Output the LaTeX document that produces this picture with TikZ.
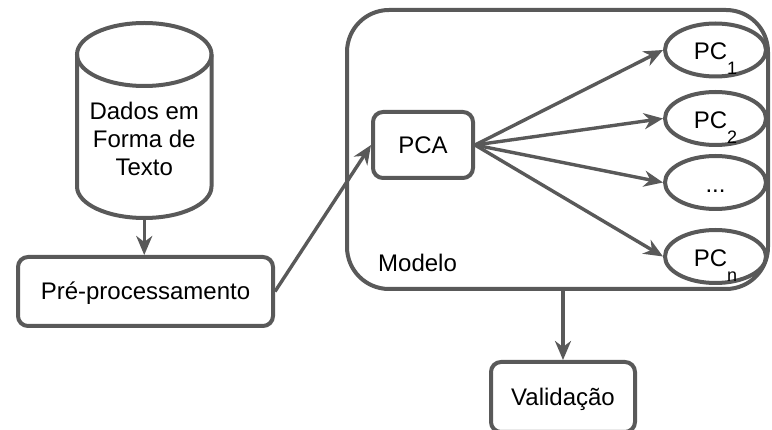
\documentclass[tikz,border=0pt]{standalone}
\usepackage{fontspec}
\setmainfont{Liberation Sans}
\usetikzlibrary{arrows.meta,shapes.geometric}
\definecolor{edge}{HTML}{595959}
\tikzset{
  txt/.style={font=\fontsize{24}{28}\selectfont, text=black},
  box/.style={txt, draw=edge, line width=4pt, rectangle, rounded corners=10pt,
    fill=white, inner sep=0pt, text height=17pt, text depth=0pt},
  pcnode/.style={txt, draw=edge, line width=4pt, ellipse, fill=white, inner sep=0pt,
    minimum width=101pt, minimum height=53pt, text height=20pt, text depth=0pt},
  arr/.style={draw=edge, line width=3.4pt,
    -{Stealth[length=19pt,width=16pt,inset=6pt]}},
}
\newcommand{\pcsub}[1]{PC\raisebox{-15pt}[0pt][0pt]{\fontsize{18}{18}\selectfont #1}}
\begin{document}
\begin{tikzpicture}[x=1pt,y=-1pt]
  \useasboundingbox (0,0) rectangle (772,430);
  \clip (0,0) rectangle (772,430);
  \fill[white] (0,0) rectangle (772,430);

  % data store drawn as a cylinder
  \draw[edge, line width=4pt, fill=white]
    (77,54.5) -- (77,186.5)
    arc[start angle=180, end angle=0, x radius=67.25, y radius=31.5]
    -- (211.5,54.5);
  \draw[edge, line width=4pt] (144.25,54.5) ellipse[x radius=67.25, y radius=31.5];
  \node[inner sep=0pt, minimum width=134.5pt, minimum height=195pt] (db) at (144.25,120.5) {};
  \node[txt, align=center, inner sep=0pt] (dbtext) at (144.25,138.5)
    {Dados em\\Forma de\\Texto};

  % preprocessing
  \node[box, minimum width=255pt, minimum height=69pt] (pre) at (145.5,291.5)
    {Pré-processamento};

  % model container
  \node[draw=edge, line width=4pt, rectangle, rounded corners=42pt,
    minimum width=421pt, minimum height=279pt, inner sep=0pt] (model) at (557.5,149.5) {};
  \node[txt, anchor=base west, inner sep=0pt] (modlabel) at (378,272) {Modelo};

  \node[box, minimum width=100pt, minimum height=66pt] (pca) at (423,145) {PCA};

  \node[pcnode] (pc1) at (715.5,50) {\pcsub{1}};
  \node[pcnode] (pc2) at (715.5,118.5) {\pcsub{2}};
  \node[pcnode] (pcd) at (715.5,182.5) {...};
  \node[pcnode] (pcn) at (715.5,256.5) {\pcsub{n}};

  % validation
  \node[box, minimum width=144pt, minimum height=70pt] (val) at (563,397) {Validação};

  % connectors
  \draw[arr] (db.south) -- (db.south |- pre.north);
  \draw[arr] (pre.east) -- (pca.west);
  \draw[arr] (pca.east) -- (pc1.west);
  \draw[arr] (pca.east) -- (pc2.west);
  \draw[arr] (pca.east) -- (pcd.west);
  \draw[arr] (pca.east) -- (pcn.west);
  \draw[arr] (val.north |- model.south) -- (val.north);
\end{tikzpicture}
\end{document}
